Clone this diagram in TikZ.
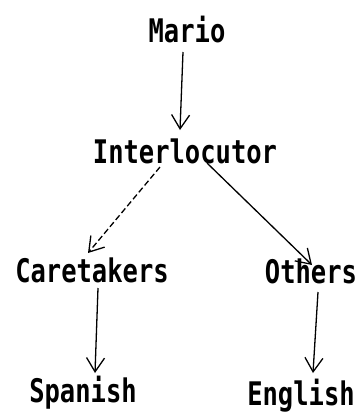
\documentclass[tikz,border=0pt]{standalone}
\usepackage{fontspec}
\setmonofont{DejaVu Sans Mono}
\usetikzlibrary{arrows.meta}
\tikzset{
  lbl/.style={anchor=base, inner sep=0pt, font=\ttfamily\bfseries\fontsize{26}{30}\selectfont},
  arr/.style={line width=1.3pt, -{Straight Barb[length=14pt,width=18pt,line width=1.3pt]}},
  dasharr/.style={arr, dash pattern=on 6pt off 3pt},
}
\newcommand{\tall}[1]{\scalebox{0.98}[1.25]{#1}}
\begin{document}
\begin{tikzpicture}[x=1pt,y=-1pt]
\useasboundingbox (0,0) rectangle (364,416);
\node[lbl] (m) at (187,42) {\tall{Mario}};
\node[lbl] (i) at (185,163) {\tall{Interlocutor}};
\node[lbl] (c) at (92,282) {\tall{Caretakers}};
\node[lbl] (o) at (311,283) {\tall{Others}};
\node[lbl] (s) at (83,402) {\tall{Spanish}};
\node[lbl] (e) at (301,405) {\tall{English}};
\draw[arr] ([shift={(-4pt,-10pt)}]m.base) -- ([shift={(-5pt,33pt)}]i.base);
\draw[dasharr] ([shift={(-25pt,-4pt)}]i.base) -- ([shift={(-4pt,29pt)}]c.base);
\draw[arr] ([shift={(22pt,0pt)}]i.base) -- ([shift={(1pt,18pt)}]o.base);
\draw[arr] ([shift={(6pt,-6pt)}]c.base) -- ([shift={(12pt,29pt)}]s.base);
\draw[arr] ([shift={(7pt,-9pt)}]o.base) -- ([shift={(12pt,32pt)}]e.base);
\end{tikzpicture}
\end{document}
